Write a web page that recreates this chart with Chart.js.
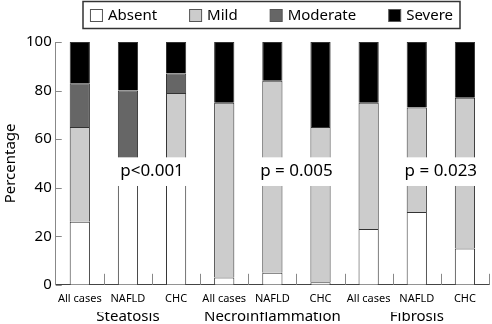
<!DOCTYPE html>
<html>
<head>
<meta charset="utf-8">
<script src="https://cdn.jsdelivr.net/npm/chart.js@4/dist/chart.umd.min.js"></script>
<style>
  html, body { margin: 0; padding: 0; background: #fff; }
  .container { width: 492px; height: 324px; position: relative; }
</style>
</head>
<body>
<div class="container"><canvas id="chart"></canvas></div>
<script>
const categories = ["All cases", "NAFLD", "CHC", "All cases", "NAFLD", "CHC", "All cases", "NAFLD", "CHC"];
const groups = ["Steatosis", "Necroinflammation", "Fibrosis"];
const pValues = ["p<0.001", "p = 0.005", "p = 0.023"];
const yTicks = [0, 20, 40, 60, 80, 100];

const absent   = [26, 46, 46, 3, 5, 1, 23, 30, 15];
const mild     = [39, 0, 33, 72, 79, 64, 52, 43, 62];
const moderate = [18, 34, 8, 0, 0, 0, 0, 0, 0];
const severe   = [17, 20, 13, 25, 16, 35, 25, 27, 23];

const FONT = "'Noto Sans', sans-serif";

const seriesNames = ["Absent", "Mild", "Moderate", "Severe"];
const seriesColors = ["#ffffff", "#cccccc", "#666666", "#000000"];

// second axis only shows group names under the middle bar of each group
const groupLabels = categories.map((c, i) => (i % 3 === 1 ? groups[Math.floor(i / 3)] : ""));

const extras = {
  id: "extras",
  afterDatasetsDraw(chart) {
    const ctx = chart.ctx;
    const x = chart.scales.x, y = chart.scales.y;
    const step = x.getPixelForValue(1) - x.getPixelForValue(0);
    const half = step * 0.42 / 2;

    // white gaps with the p values
    ctx.save();
    groups.forEach((g, k) => {
      const xa = x.getPixelForValue(k * 3 + 1);
      const xb = x.getPixelForValue(k * 3 + 2);
      const top = y.getPixelForValue(52.5);
      const bot = y.getPixelForValue(40.7);
      ctx.fillStyle = "#fff";
      ctx.fillRect(xa - half - 2, top, xb - xa + half * 2 + 4, bot - top);
      ctx.fillStyle = "#000";
      ctx.font = "17px " + FONT;
      ctx.textAlign = "center";
      ctx.textBaseline = "middle";
      ctx.fillText(pValues[k], (xa + xb) / 2, y.getPixelForValue(46.8));
    });

    // short ticks between categories, pointing up
    ctx.strokeStyle = "#888";
    ctx.lineWidth = 1;
    const base = y.getPixelForValue(0);
    for (let i = 1; i <= categories.length; i++) {
      const px = Math.round(x.getPixelForValue(i - 0.5)) + 0.5;
      ctx.beginPath();
      ctx.moveTo(px, base);
      ctx.lineTo(px, base - 11);
      ctx.stroke();
    }
    // y ticks pointing inward
    yTicks.forEach(v => {
      const py = Math.round(y.getPixelForValue(v)) + 0.5;
      ctx.beginPath();
      ctx.moveTo(x.left, py);
      ctx.lineTo(x.left + 6, py);
      ctx.stroke();
    });
    ctx.restore();
  },
  afterDraw(chart) {
    // boxed legend on top
    const ctx = chart.ctx;
    ctx.save();
    ctx.font = "15px " + FONT;
    const box = 12, gap = 6, pad = 32;
    const widths = seriesNames.map(n => box + gap + ctx.measureText(n).width);
    const total = widths.reduce((a, b) => a + b, 0) + pad * (widths.length - 1);
    const left = 83, right = 460;
    let cx = left + (right - left - total) / 2;
    ctx.strokeStyle = "#333";
    ctx.lineWidth = 1.5;
    ctx.strokeRect(left, 1.5, right - left, 27);
    ctx.textBaseline = "middle";
    seriesNames.forEach((n, i) => {
      ctx.fillStyle = seriesColors[i];
      ctx.fillRect(cx + 0.5, 9.5, box, box);
      ctx.strokeStyle = "#555";
      ctx.lineWidth = 1;
      ctx.strokeRect(cx + 0.5, 9.5, box, box);
      ctx.fillStyle = "#000";
      ctx.fillText(n, cx + box + gap, 16);
      cx += widths[i] + pad;
    });
    ctx.restore();
  }
};

const datasets = [absent, mild, moderate, severe].map((d, i) => ({
  label: seriesNames[i],
  data: d,
  backgroundColor: seriesColors[i],
  borderColor: "#333",
  borderWidth: c => (c.raw ? { top: 1, left: 1, right: 1, bottom: 0 } : 0),
  borderSkipped: false,
  barPercentage: 1,
  categoryPercentage: 0.42
}));

new Chart(document.getElementById("chart").getContext("2d"), {
  type: "bar",
  data: { labels: categories, datasets },
  options: {
    responsive: true,
    maintainAspectRatio: false,
    animation: false,
    layout: { padding: { top: 42, right: 3, left: 0, bottom: 3 } },
    plugins: { legend: { display: false }, tooltip: { enabled: false } },
    scales: {
      x: {
        stacked: true,
        grid: { display: false, drawTicks: false },
        border: { color: "#444", width: 1 },
        ticks: { color: "#000", font: { family: FONT, size: 11 }, padding: 7, maxRotation: 0, autoSkip: false }
      },
      x2: {
        type: "category",
        labels: groupLabels,
        position: "bottom",
        grid: { display: false, drawTicks: false },
        border: { display: false },
        ticks: { color: "#000", font: { family: FONT, size: 15, lineHeight: 1 }, padding: -3, maxRotation: 0, autoSkip: false }
      },
      y: {
        stacked: true,
        min: 0,
        max: 100,
        grid: { display: false, drawTicks: false },
        border: { color: "#888", width: 1 },
        afterBuildTicks: axis => { axis.ticks = yTicks.map(v => ({ value: v })); },
        ticks: { color: "#000", font: { family: FONT, size: 15 }, padding: 4 },
        title: { display: true, text: "Percentage", color: "#000", font: { family: FONT, size: 15 }, padding: 2 }
      }
    }
  },
  plugins: [extras]
});
</script>
</body>
</html>
